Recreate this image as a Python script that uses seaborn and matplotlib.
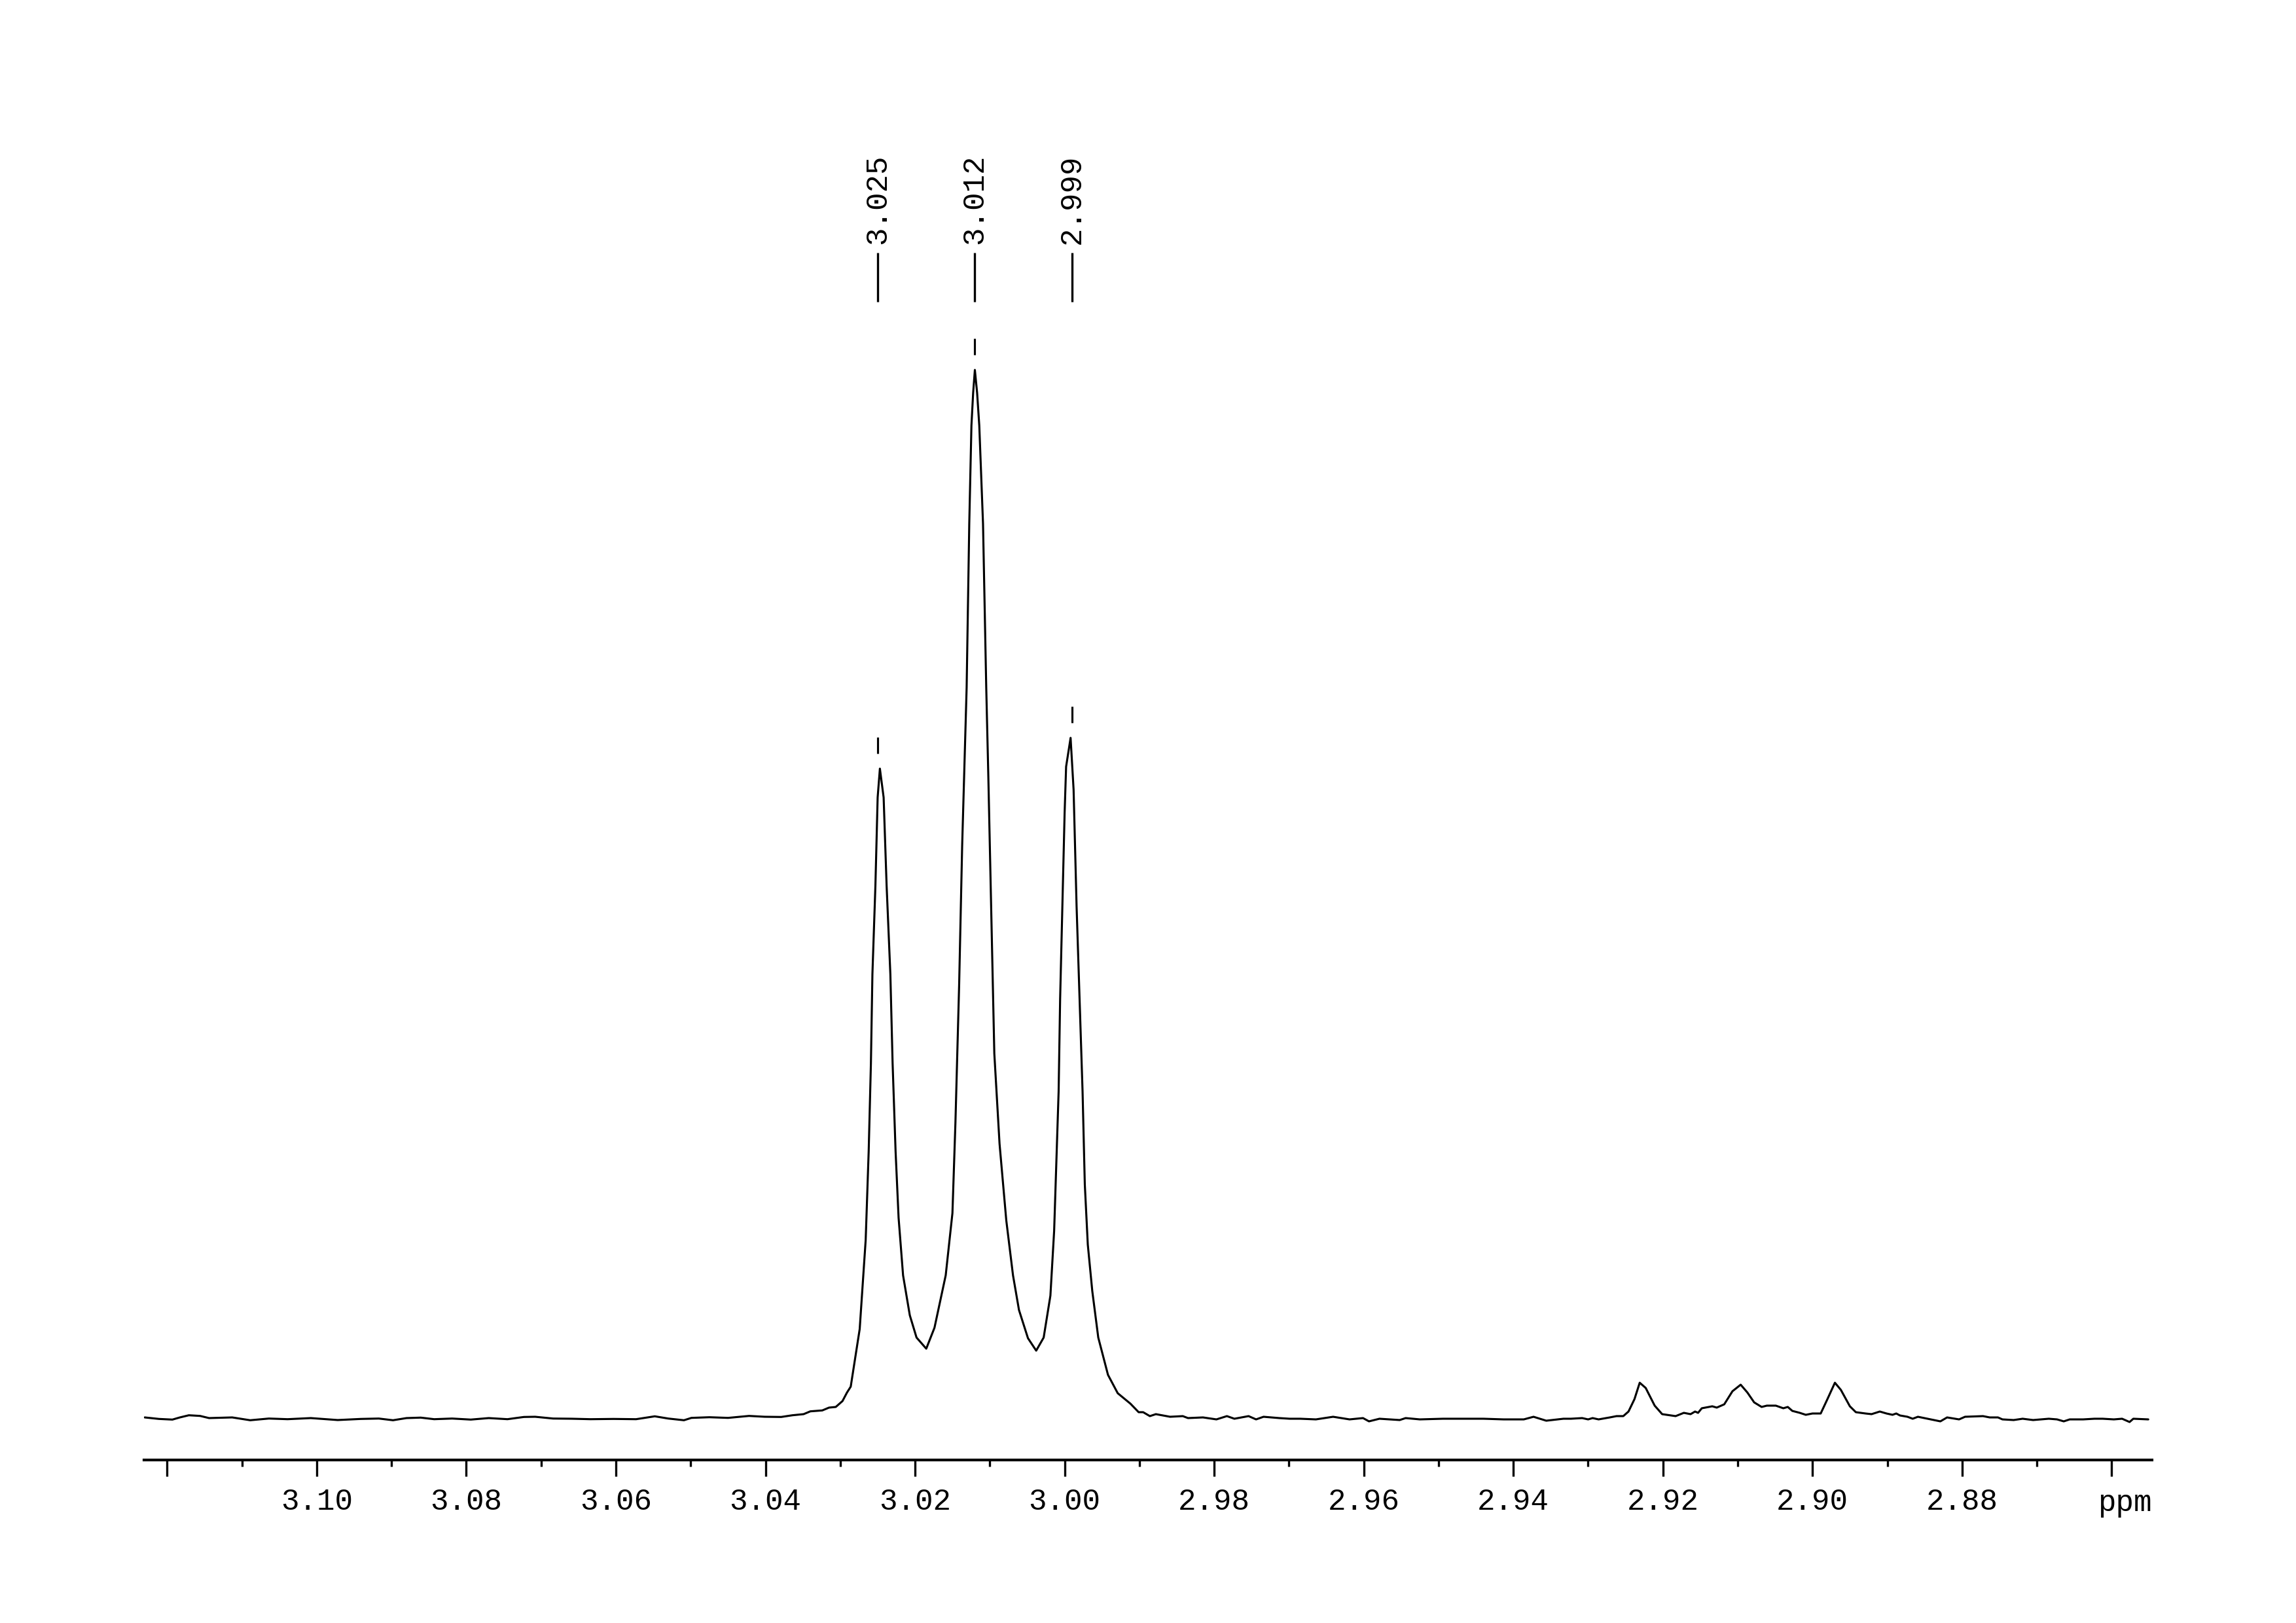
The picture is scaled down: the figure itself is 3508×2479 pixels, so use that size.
import matplotlib
matplotlib.use("Agg")
import matplotlib.pyplot as plt
import numpy as np
import pandas as pd
import seaborn as sns

# 1H trace, chemical shift (ppm) vs intensity (a.u.)
# flat baseline on the downfield side
left_ppm = [3.1230, 3.1211, 3.1193, 3.1183, 3.1171, 3.1156, 3.1144, 3.1113, 3.1089,
            3.1064, 3.1039, 3.1008, 3.0972, 3.0941, 3.0917, 3.0898, 3.0880, 3.0861,
            3.0843, 3.0819, 3.0794, 3.0770, 3.0745, 3.0723, 3.0708, 3.0684, 3.0659,
            3.0634, 3.0603, 3.0573, 3.0548, 3.0530, 3.0509, 3.0499, 3.0475, 3.0450,
            3.0422, 3.0401, 3.0379, 3.0364, 3.0349, 3.0340, 3.0324, 3.0315, 3.0306,
            3.0297, 3.0291]
left_int = [5, 2.7, 1.7, 5, 8.3, 7.3, 4, 5, 0.7,
            3.3, 2.3, 4, 1, 2.7, 3.3, 0.7, 4, 4.7,
            2.3, 3.3, 1.7, 4, 2.3, 5.7, 6, 3.3, 3,
            2.3, 2.7, 2.3, 6.7, 3.3, 0.7, 4.3, 5.3, 4.3,
            7.3, 6, 5.7, 8.3, 10, 14.3, 15.7, 20, 21,
            30, 43]

# the triplet
triplet_ppm = [3.0286, 3.0274, 3.0266, 3.0262, 3.0259, 3.0257, 3.0253, 3.0250, 3.0247,
               3.0242, 3.0238, 3.0233, 3.0230, 3.0226, 3.0222, 3.0216, 3.0207, 3.0198,
               3.0185, 3.0174, 3.0159, 3.0150, 3.0146, 3.0141, 3.0137, 3.0131, 3.01275,
               3.01246, 3.01223, 3.0120, 3.0117, 3.01141, 3.01091, 3.01048, 3.0102, 3.0098,
               3.0094, 3.0087, 3.0078, 3.0069, 3.0061, 3.0049, 3.0038, 3.0028, 3.0019,
               3.0014, 3.0011, 3.0008, 3.0006, 3.0003, 3.0000, 2.9998, 2.9992, 2.9988,
               2.9984, 2.9980, 2.9976, 2.9973, 2.9969, 2.9963, 2.9955, 2.9942, 2.9929,
               2.9912, 2.9901]
triplet_int = [52, 140, 276, 411, 546, 682, 817, 952, 996,
               952, 817, 682, 546, 411, 310, 222, 161, 127,
               110, 142, 222, 317, 455, 667, 878, 1120, 1370,
               1520, 1570, 1605, 1570, 1520, 1370, 1120, 984, 773,
               561, 423, 306, 222, 169, 126, 107, 127, 191,
               290, 396, 503, 644, 786, 928, 999, 1043, 964,
               786, 644, 503, 361, 269, 198, 127, 70, 42,
               26, 13]

# baseline between the triplet and the small multiplets
mid_ppm = [2.9895, 2.9886, 2.9878, 2.9859, 2.9842, 2.9835, 2.9815, 2.9797, 2.9783,
           2.9773, 2.9754, 2.9744, 2.9734, 2.9713, 2.9699, 2.9685, 2.9664, 2.9641,
           2.9619, 2.9601, 2.9593, 2.9579, 2.9566, 2.9552, 2.9544, 2.9525, 2.9494,
           2.9467, 2.9440, 2.9413, 2.9386, 2.9373, 2.9356, 2.9333]
mid_int = [13, 7, 10, 6, 7, 4, 5, 2, 7,
           3, 7, 2, 6, 4, 3, 3, 2, 6,
           2, 4, -1, 3, 2, 1, 4, 2, 3,
           3, 3, 2, 2, 6, 0, 3]

# small signals near 2.92 - 2.89 ppm
small_ppm = [2.9323, 2.9308, 2.9300, 2.9294, 2.9286, 2.9271, 2.9262, 2.9253, 2.9246,
             2.9238, 2.9231, 2.9223, 2.9211, 2.9201, 2.9183, 2.9172, 2.9163, 2.9157,
             2.9153, 2.9148, 2.9134, 2.9128, 2.9118, 2.9107, 2.9096, 2.9087, 2.9078,
             2.9068, 2.9061, 2.9049, 2.9039, 2.9033, 2.9027, 2.9017, 2.9009, 2.9000,
             2.8989, 2.8980, 2.8970, 2.8962, 2.8950, 2.8942]
small_int = [3, 4, 2, 4, 2, 5, 7, 7, 14,
             33, 58, 50, 23, 10, 7, 12, 10, 14,
             12, 19, 22, 20, 25, 45, 55, 43, 28,
             21, 23, 23, 19, 21, 15, 12, 9, 11,
             11, 33, 58, 47, 22, 13]

# upfield baseline
right_ppm = [2.8929, 2.8921, 2.8910, 2.8901, 2.8893, 2.8888, 2.8883, 2.8873, 2.8866,
             2.8859, 2.8842, 2.8829, 2.8820, 2.8804, 2.8796, 2.8772, 2.8763, 2.8752,
             2.8746, 2.8731, 2.8719, 2.8705, 2.8684, 2.8673, 2.8664, 2.8656, 2.8638,
             2.8623, 2.8612, 2.8597, 2.8586, 2.8576, 2.8571, 2.8551]
right_int = [11, 10, 14, 11, 9, 11, 8, 6, 3,
             6, 2, -1, 5, 2, 6, 7, 5, 5,
             2, 1, 3, 1, 3, 2, -1, 2, 2,
             3, 3, 2, 3, -2, 3, 2]

peak_ppm = [3.025, 3.012, 2.999]
peak_labels = ["3.025", "3.012", "2.999"]

major_ticks = [3.12, 3.10, 3.08, 3.06, 3.04, 3.02, 3.00, 2.98, 2.96, 2.94, 2.92, 2.90, 2.88, 2.86]
major_labels = ["", "3.10", "3.08", "3.06", "3.04", "3.02", "3.00", "2.98", "2.96",
                "2.94", "2.92", "2.90", "2.88", ""]
minor_ticks = [3.11, 3.09, 3.07, 3.05, 3.03, 3.01, 2.99, 2.97, 2.95, 2.93, 2.91, 2.89, 2.87]

df = pd.DataFrame({
    "ppm": left_ppm + triplet_ppm + mid_ppm + small_ppm + right_ppm,
    "intensity": left_int + triplet_int + mid_int + small_int + right_int,
})

sns.set_theme(style="white")
plt.rcParams["font.family"] = ["Liberation Mono", "DejaVu Sans Mono"]

W, H = 3508, 2479
fig = plt.figure(figsize=(W / 300, H / 300), dpi=300)
fig.patch.set_facecolor("white")
ax = fig.add_axes([220 / W, 1 - 2230 / H, (3288 - 220) / W, 2130 / H])
ax.set_facecolor("white")

sns.lineplot(data=df, x="ppm", y="intensity", sort=False, estimator=None,
             color="black", linewidth=0.75, ax=ax)

ax.set_xlim(3.1231, 2.8546)
ax.set_ylim(-60, 2070)

# peak picking annotations
for p, lab in zip(peak_ppm, peak_labels):
    near = df[(df["ppm"] - p).abs() < 0.0008]
    top = near["intensity"].max()
    ax.vlines(p, top + 23, top + 48, color="black", linewidth=0.75)
    ax.vlines(p, 1709, 1784, color="black", linewidth=0.8)
    ax.text(p, 1797, lab, rotation=90, ha="center", va="bottom",
            fontsize=11, color="black")

ax.set_xticks(major_ticks, major_labels)
ax.set_xticks(minor_ticks, minor=True)
ax.tick_params(axis="x", which="major", direction="out", length=6, width=0.8,
               pad=4, labelsize=11, colors="black", bottom=True)
ax.tick_params(axis="x", which="minor", direction="out", length=2.4, width=0.8,
               bottom=True, colors="black")
ax.tick_params(axis="y", left=False, labelleft=False)
ax.text(1.0, -0.0366, "ppm", transform=ax.transAxes, ha="right", va="baseline",
        fontsize=11, color="black")

for side in ["top", "left", "right"]:
    ax.spines[side].set_visible(False)
ax.spines["bottom"].set_color("black")
ax.spines["bottom"].set_linewidth(1.0)
ax.set_xlabel("")
ax.set_ylabel("")
ax.grid(False)

fig.savefig("out.png", dpi=300, facecolor="white")
